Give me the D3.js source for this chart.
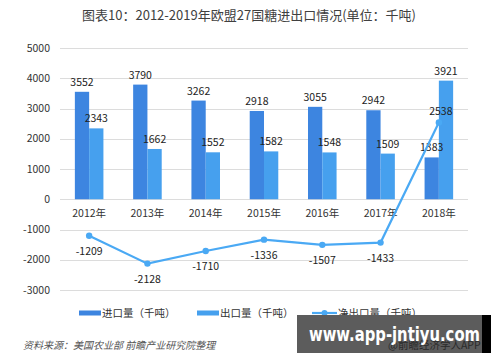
<!DOCTYPE html>
<html>
<head>
<meta charset="utf-8">
<script src="https://cdn.jsdelivr.net/npm/d3@7"></script>
<style>
  body { margin: 0; background: #fff; }
  svg text { font-family: "Noto Sans CJK SC", "Noto Sans", sans-serif; }
</style>
</head>
<body>
<div id="chart"></div>
<script>
/* chart data */
const years = ['2012年', '2013年', '2014年', '2015年', '2016年', '2017年', '2018年'];
const importVals = [3552, 3790, 3262, 2918, 3055, 2942, 1383];
const exportVals = [2343, 1662, 1552, 1582, 1548, 1509, 3921];
const netVals = [-1209, -2128, -1710, -1336, -1507, -1433, 2538];
const yTicks = [5000, 4000, 3000, 2000, 1000, 0, -1000, -2000, -3000];
const legendNames = ['进口量（千吨）', '出口量（千吨）', '净出口量（千吨）'];

const importColor = '#3d85e0';
const exportColor = '#46a0ee';
const lineColor = '#4aa9f4';

const W = 500;
const H = 362;

const svg = d3.select('#chart')
  .append('svg')
  .attr('width', W)
  .attr('height', H);

/* title */
svg.append('text')
  .attr('x', 249)
  .attr('y', 20)
  .attr('text-anchor', 'middle')
  .style('font-size', '13px')
  .style('fill', '#404040')
  .text('图表10：2012-2019年欧盟27国糖进出口情况(单位：千吨)');

/* scales */
const x = d3.scaleBand()
  .domain(years)
  .range([60, 468]);

const y = d3.scaleLinear()
  .domain([-3000, 5000])
  .range([290, 48]);

const barW = x.bandwidth() * 0.245;

/* gridlines + y labels */
svg.append('g')
  .selectAll('line')
  .data(yTicks)
  .enter()
  .append('line')
  .attr('x1', 60)
  .attr('x2', 468)
  .attr('y1', function (d) { return Math.round(y(d)) + 0.5; })
  .attr('y2', function (d) { return Math.round(y(d)) + 0.5; })
  .attr('stroke', '#dcdcdc')
  .attr('stroke-width', 1);

svg.append('g')
  .selectAll('text')
  .data(yTicks)
  .enter()
  .append('text')
  .attr('x', 50)
  .attr('y', function (d) { return y(d); })
  .attr('dy', '0.35em')
  .attr('text-anchor', 'end')
  .style('font-size', '10.5px')
  .style('fill', '#333')
  .text(function (d) { return d; });

/* bars */
svg.append('g')
  .selectAll('rect')
  .data(importVals)
  .enter()
  .append('rect')
  .attr('x', function (d, i) { return x(years[i]) + x.bandwidth() / 2 - barW; })
  .attr('y', function (d) { return y(d); })
  .attr('width', barW)
  .attr('height', function (d) { return y(0) - y(d); })
  .attr('fill', importColor);

svg.append('g')
  .selectAll('rect')
  .data(exportVals)
  .enter()
  .append('rect')
  .attr('x', function (d, i) { return x(years[i]) + x.bandwidth() / 2; })
  .attr('y', function (d) { return y(d); })
  .attr('width', barW)
  .attr('height', function (d) { return y(0) - y(d); })
  .attr('fill', exportColor);

/* bar value labels */
svg.append('g')
  .selectAll('text')
  .data(importVals)
  .enter()
  .append('text')
  .attr('x', function (d, i) { return x(years[i]) + x.bandwidth() / 2 - barW / 2; })
  .attr('y', function (d) { return y(d) - 6; })
  .attr('text-anchor', 'middle')
  .style('font-size', '10.5px')
  .style('fill', '#222')
  .text(function (d) { return d; });

svg.append('g')
  .selectAll('text')
  .data(exportVals)
  .enter()
  .append('text')
  .attr('x', function (d, i) { return x(years[i]) + x.bandwidth() / 2 + barW / 2; })
  .attr('y', function (d) { return y(d) - 6; })
  .attr('text-anchor', 'middle')
  .style('font-size', '10.5px')
  .style('fill', '#222')
  .text(function (d) { return d; });

/* x labels */
svg.append('g')
  .selectAll('text')
  .data(years)
  .enter()
  .append('text')
  .attr('x', function (d) { return x(d) + x.bandwidth() / 2; })
  .attr('y', y(0) + 18)
  .attr('text-anchor', 'middle')
  .style('font-size', '10.5px')
  .style('fill', '#333')
  .text(function (d) { return d; });

/* net export line */
const line = d3.line()
  .x(function (d, i) { return x(years[i]) + x.bandwidth() / 2; })
  .y(function (d) { return y(d); });

svg.append('path')
  .datum(netVals)
  .attr('d', line)
  .attr('fill', 'none')
  .attr('stroke', lineColor)
  .attr('stroke-width', 2.2);

svg.append('g')
  .selectAll('circle')
  .data(netVals)
  .enter()
  .append('circle')
  .attr('cx', function (d, i) { return x(years[i]) + x.bandwidth() / 2; })
  .attr('cy', function (d) { return y(d); })
  .attr('r', 3.2)
  .attr('fill', lineColor);

svg.append('g')
  .selectAll('text')
  .data(netVals)
  .enter()
  .append('text')
  .attr('x', function (d, i) { return x(years[i]) + x.bandwidth() / 2 + (d > 0 ? 2 : 0); })
  .attr('y', function (d) { return d > 0 ? y(d) - 7 : y(d) + 19; })
  .attr('text-anchor', 'middle')
  .style('font-size', '10.5px')
  .style('fill', '#222')
  .text(function (d) { return d; });

/* legend */
const legendX = [79, 197, 312];
const legend = svg.append('g');
legendNames.forEach(function (name, i) {
  const g = legend.append('g').attr('transform', 'translate(' + legendX[i] + ',313)');
  if (i < 2) {
    g.append('rect')
      .attr('x', 0)
      .attr('y', -2.5)
      .attr('width', 22)
      .attr('height', 5)
      .attr('fill', i === 0 ? importColor : exportColor);
  } else {
    g.append('line')
      .attr('x1', 0).attr('x2', 25)
      .attr('y1', 0).attr('y2', 0)
      .attr('stroke', lineColor)
      .attr('stroke-width', 2.2);
    g.append('circle')
      .attr('cx', 12.5).attr('cy', 0).attr('r', 3)
      .attr('fill', lineColor);
  }
  g.append('text')
    .attr('x', i < 2 ? 23 : 26)
    .attr('dy', '0.35em')
    .style('font-size', '10.5px')
    .style('fill', '#333')
    .text(name);
});

/* source note */
svg.append('text')
  .attr('x', 23)
  .attr('y', 349)
  .style('font-size', '10px')
  .style('font-style', 'italic')
  .style('fill', '#555')
  .text('资料来源：美国农业部 前瞻产业研究院整理');

/* site watermark box */
svg.append('rect')
  .attr('x', 482).attr('y', 315)
  .attr('width', 9).attr('height', 38)
  .attr('fill', '#000');
svg.append('rect')
  .attr('x', 297).attr('y', 315)
  .attr('width', 185).attr('height', 38)
  .attr('fill', '#5c5c5c');
svg.append('text')
  .attr('x', 388)
  .attr('y', 349)
  .style('font-size', '10.5px')
  .style('fill', '#2a2a2a')
  .text('@前瞻经济学人APP');
svg.append('text')
  .attr('x', 309)
  .attr('y', 341)
  .style('font-family', '"DejaVu Sans", sans-serif')
  .style('font-size', '19px')
  .style('font-weight', 'bold')
  .style('fill', '#fff')
  .attr('textLength', 171)
  .attr('lengthAdjust', 'spacingAndGlyphs')
  .text('www.app-jntiyu.com');
</script>
</body>
</html>
